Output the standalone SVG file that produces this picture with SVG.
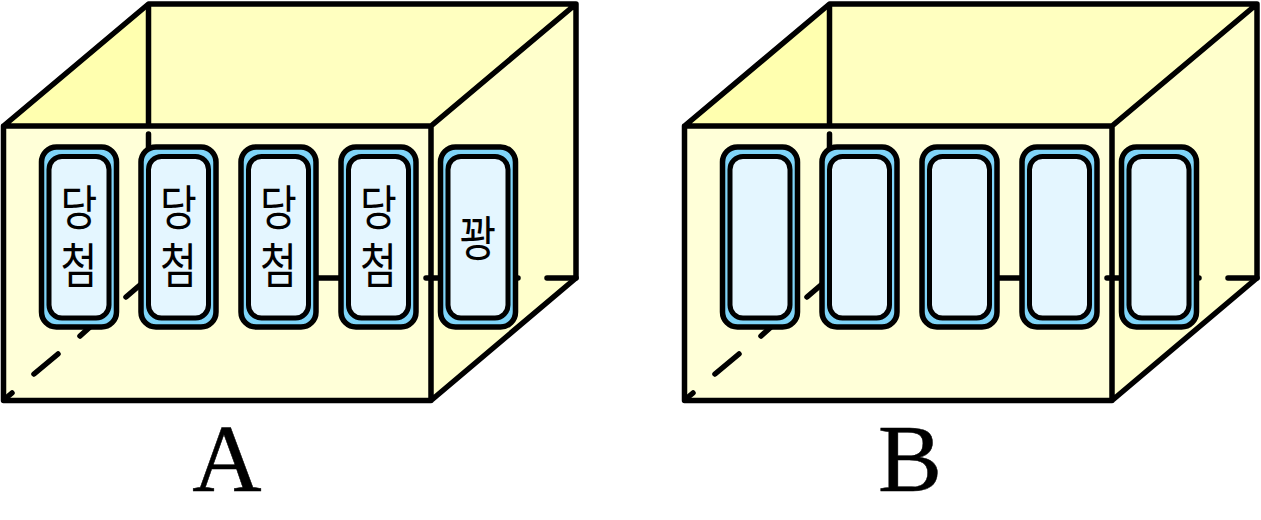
<svg xmlns="http://www.w3.org/2000/svg" width="1261" height="520" viewBox="0 0 1261 520">
<style>
.o{fill:none;stroke:#000;stroke-width:5.5;stroke-linejoin:round;stroke-linecap:butt}
.d{fill:none;stroke:#000;stroke-width:5.5;stroke-linecap:round}
.back{fill:#ffffc0}.left{fill:#ffffaf}.right{fill:#ffffcc}.front{fill:#ffffd8}
.p1{fill:#7fd4f8;stroke:#000;stroke-width:5.500}
.p2{fill:#e4f6ff;stroke:#000;stroke-width:5}
.k{font-family:"Noto Sans CJK KR","Noto Sans",sans-serif;font-size:40px;text-anchor:middle;fill:#000}
.l{font-family:"Liberation Serif",serif;font-size:96px;text-anchor:middle;fill:#000;stroke:#000;stroke-width:.5}
</style>
<defs>
<g id="shell">
<path class="left" d="M3.500 126L148.500 4V126Z"/>
<path class="back" d="M148.500 4H576V126H148.500Z"/>
<path class="right" d="M431 126L576 4V278L431 400.500Z"/>
<path class="front" d="M3.500 126H431V400.500H3.500Z"/>
<path class="o" d="M148.500 4V126"/>
</g>
<g id="edges">
<path class="o" d="M3.500 126H431V400.500H3.500ZM3.500 126L148.500 4H576V278L431 400.500M431 126L576 4"/>
</g>
<g id="hidden">
<path class="d" d="M148.500 134V150M6 398L12 393M34 374L58 354M80 336L90 327M126 297L140 285M316 278H345M426 278H445M516 278H518M547 278H576"/>
</g>
<g id="pill">
<rect class="p1" x="0" y="147" width="75" height="180" rx="15"/>
<rect class="p2" x="7.500" y="156.500" width="60" height="161.500" rx="13"/>
</g>
</defs>
<g id="connectors">
<use href="#shell"/>
<use href="#shell" x="681"/>
<use href="#edges"/>
<use href="#edges" x="681"/>
<use href="#hidden"/>
<use href="#hidden" x="681"/>
</g>
<g id="a1"><use href="#pill" x="41.500"/><text class="k" transform="translate(79 0) scale(1 1.2)"><tspan x="0" y="187.500">당</tspan><tspan x="0" dy="48">첨</tspan></text></g>
<g id="a2"><use href="#pill" x="141"/><text class="k" transform="translate(178.500 0) scale(1 1.2)"><tspan x="0" y="187.500">당</tspan><tspan x="0" dy="48">첨</tspan></text></g>
<g id="a3"><use href="#pill" x="241"/><text class="k" transform="translate(278.500 0) scale(1 1.2)"><tspan x="0" y="187.500">당</tspan><tspan x="0" dy="48">첨</tspan></text></g>
<g id="a4"><use href="#pill" x="341"/><text class="k" transform="translate(378.500 0) scale(1 1.2)"><tspan x="0" y="187.500">당</tspan><tspan x="0" dy="48">첨</tspan></text></g>
<g id="a5"><use href="#pill" x="440.500"/><text class="k" transform="translate(478 255.500) scale(1 1.2)">꽝</text></g>
<g id="b1"><use href="#pill" x="722.500"/></g>
<g id="b2"><use href="#pill" x="822"/></g>
<g id="b3"><use href="#pill" x="922"/></g>
<g id="b4"><use href="#pill" x="1022"/></g>
<g id="b5"><use href="#pill" x="1121.500"/></g>
<text class="l" x="227" y="491">A</text>
<text class="l" x="910" y="491">B</text>
</svg>
